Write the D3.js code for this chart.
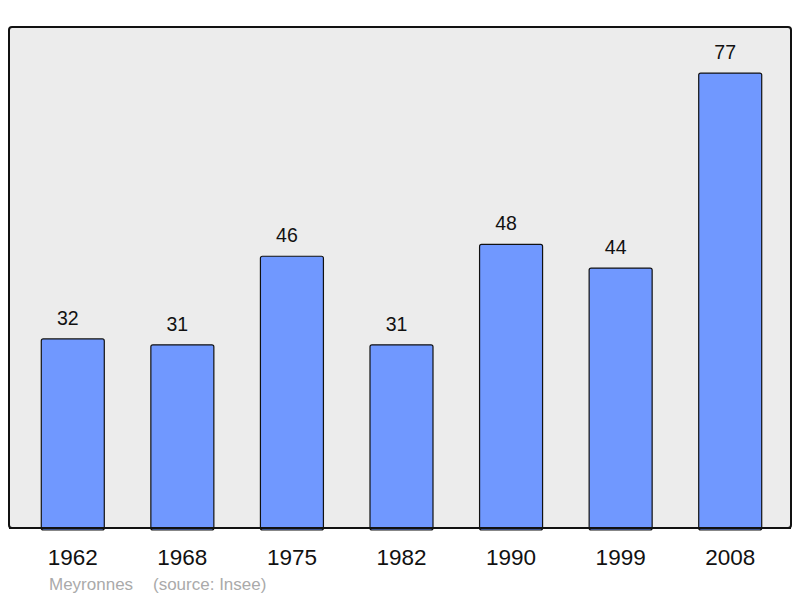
<!DOCTYPE html>
<html>
<head>
<meta charset="utf-8">
<script src="https://cdn.jsdelivr.net/npm/d3@7"></script>
<style>
html,body{margin:0;padding:0;background:#fff;}
text{font-family:"Liberation Sans",Arial,sans-serif;}
</style>
</head>
<body>
<svg id="chart" width="800" height="598"></svg>
<script>
const years = ["1962","1968","1975","1982","1990","1999","2008"];
const population = [32,31,46,31,48,44,77];
const yMax = 84.8;
const title = "Meyronnes";
const source = "(source: Insee)";

const svg = d3.select("#chart");
const frame = {left: 9, right: 791, top: 27, bottom: 528};

svg.append("rect")
  .attr("x", frame.left).attr("y", frame.top)
  .attr("width", frame.right - frame.left).attr("height", frame.bottom - frame.top)
  .attr("rx", 3).attr("ry", 3)
  .attr("fill", "#ececec").attr("stroke", "#111").attr("stroke-width", 2);

const x = d3.scaleBand().domain(years).range([18, 785]).paddingInner(0.425).paddingOuter(0.2125);
const y = d3.scaleLinear().domain([0, yMax]).range([frame.bottom, frame.top]);

const data = years.map((yr, i) => ({year: yr, value: population[i]}));

svg.selectAll("rect.bar").data(data).enter().append("rect")
  .attr("class", "bar")
  .attr("x", d => x(d.year))
  .attr("y", d => y(d.value))
  .attr("width", x.bandwidth())
  .attr("height", d => y(0) - y(d.value) + 2)
  .attr("rx", 2).attr("ry", 2)
  .attr("fill", "#7098ff").attr("stroke", "#111").attr("stroke-width", 1.2);

svg.append("line")
  .attr("x1", frame.left).attr("x2", frame.right)
  .attr("y1", frame.bottom).attr("y2", frame.bottom)
  .attr("stroke", "#111").attr("stroke-width", 2);

svg.selectAll("text.val").data(data).enter().append("text")
  .attr("class", "val")
  .attr("x", d => x(d.year) + x.bandwidth() / 2 - 5)
  .attr("y", d => y(d.value) - 14)
  .attr("text-anchor", "middle")
  .attr("font-size", 19.5).attr("fill", "#111")
  .text(d => d.value);

const xAxis = d3.axisBottom(x).tickSize(0).tickPadding(0);
const ax = svg.append("g").attr("transform", `translate(0,${frame.bottom})`).call(xAxis);
ax.select(".domain").remove();
ax.selectAll("text")
  .attr("dy", null).attr("y", 37)
  .attr("font-size", 22.5).attr("fill", "#111")
  .style("font-family", "'Liberation Sans', Arial, sans-serif");

svg.append("text").attr("x", 49).attr("y", 590)
  .attr("font-size", 17).attr("fill", "#aaa").text(title);
svg.append("text").attr("x", 153).attr("y", 590)
  .attr("font-size", 17).attr("fill", "#aaa").text(source);
</script>
</body>
</html>
